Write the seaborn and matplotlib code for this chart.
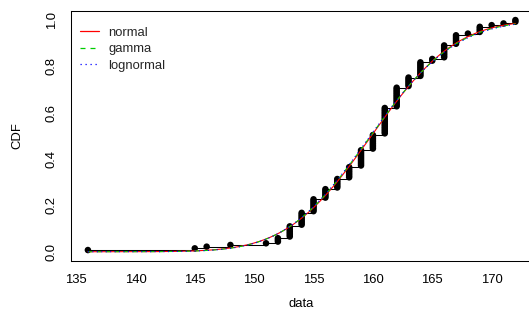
import math
import numpy as np
import pandas as pd
import matplotlib
matplotlib.use("Agg")
import matplotlib.pyplot as plt
import seaborn as sns
from matplotlib.lines import Line2D

# ---- data (unique values and their counts) ----
values = [136, 145, 146, 148, 151, 152, 153, 154, 155, 156, 157, 158, 159,
          160, 161, 162, 163, 164, 165, 166, 167, 168, 169, 170, 171, 172]
counts = [1, 1, 1, 1, 1, 3, 7, 8, 8, 6, 6, 7, 10,
          9, 16, 12, 6, 9, 2, 8, 6, 1, 4, 1, 1, 2]
dist_names = ["normal", "gamma", "lognormal"]
dist_colors = ["#FF0000", "#00CD00", "#0000FF"]
x_ticks = [135, 140, 145, 150, 155, 160, 165, 170]
y_ticks = [0.0, 0.2, 0.4, 0.6, 0.8, 1.0]

obs = np.sort(np.repeat(values, counts)).astype(float)
n = len(obs)
ecdf = pd.DataFrame({"x": obs, "F": np.arange(1, n + 1) / n})

# ---- maximum-likelihood fits ----
m = obs.mean()
sd = np.sqrt(((obs - m) ** 2).mean())
lmu = np.log(obs).mean()
lsd = np.sqrt(((np.log(obs) - lmu) ** 2).mean())
s = math.log(m) - lmu
k = (3 - s + math.sqrt((s - 3) ** 2 + 24 * s)) / (12 * s)


def dig(z):
    r = 0.0
    while z < 6:
        r -= 1 / z
        z += 1
    return r + math.log(z) - 1/(2*z) - 1/(12*z**2) + 1/(120*z**4) - 1/(252*z**6)


def trig(z):
    r = 0.0
    while z < 6:
        r += 1 / z**2
        z += 1
    return r + 1/z + 1/(2*z**2) + 1/(6*z**3) - 1/(30*z**5) + 1/(42*z**7)


for _ in range(50):  # Newton refinement on log(k) - digamma(k) = s
    f = math.log(k) - dig(k) - s
    fp = 1 / k - trig(k)
    k -= f / fp
theta = m / k

xs = np.linspace(obs.min(), obs.max(), 401)
phi = np.vectorize(lambda z: 0.5 * (1 + math.erf(z / math.sqrt(2))))
cdf_norm = phi((xs - m) / sd)
cdf_lnorm = phi((np.log(xs) - lmu) / lsd)
grid = np.linspace(60, obs.max(), 40001)
logpdf = (k - 1) * np.log(grid) - grid / theta - math.lgamma(k) - k * math.log(theta)
pdf = np.exp(logpdf)
cum = np.concatenate([[0], np.cumsum((pdf[1:] + pdf[:-1]) / 2 * np.diff(grid))])
cdf_gamma = np.interp(xs, grid, cum)
curves = [cdf_norm, cdf_gamma, cdf_lnorm]

# ---- plotting ----
sns.set_theme(style="white")
plt.rcParams["font.family"] = ["Liberation Sans", "DejaVu Sans"]
fs = 9.4
fig = plt.figure(figsize=(5.29, 3.24), dpi=100)
ax = fig.add_axes([70.8 / 529, 63 / 324, 461.7 / 529, 250.2 / 324])

# horizontal steps
for i in range(n - 1):
    ax.plot([obs[i], obs[i + 1]], [(i + 1) / n, (i + 1) / n],
            color="black", lw=0.75, zorder=2, solid_capstyle="butt")

sns.scatterplot(data=ecdf, x="x", y="F", ax=ax, color="black", s=22,
                edgecolor="none", zorder=3, legend=False)

styles = ["-", (0, (4, 4)), (0, (1, 3))]
for name, col, ls, cy in zip(dist_names, dist_colors, styles, curves):
    dfc = pd.DataFrame({"x": xs, "y": cy})
    sns.lineplot(data=dfc, x="x", y="y", ax=ax, color=col, lw=0.8,
                 linestyle=ls, zorder=4, legend=False)

ax.set_xlim(134.56, 173.44)
ax.set_ylim(-0.04, 1.04)
ax.set_xticks(x_ticks)
ax.set_xticklabels([str(t) for t in x_ticks], fontsize=fs)
ax.set_yticks(y_ticks)
ax.set_yticklabels([f"{t:.1f}" for t in y_ticks], fontsize=fs,
                   rotation=90, va="center")
ax.tick_params(axis="both", direction="out", length=5, width=0.75,
               color="black", labelcolor="black")
ax.tick_params(axis="x", pad=4.5)
ax.tick_params(axis="y", pad=4.5)
for sp in ax.spines.values():
    sp.set_color("black")
    sp.set_linewidth(0.75)
    sp.set_visible(True)
ax.set_xlabel("data", fontsize=fs, color="black", labelpad=8.5)
ax.set_ylabel("CDF", fontsize=fs, color="black", labelpad=16)
ax.grid(False)

handles = [Line2D([0], [0], color=c, lw=0.9, linestyle=l)
           for c, l in zip(dist_colors, styles)]
ax.legend(handles, dist_names, loc="upper left", frameon=False, fontsize=fs,
          handlelength=1.5, handletextpad=0.7, labelspacing=0.32,
          borderaxespad=0.0, borderpad=0.4, bbox_to_anchor=(0.008, 0.957))

fig.savefig("out.png", dpi=100)
